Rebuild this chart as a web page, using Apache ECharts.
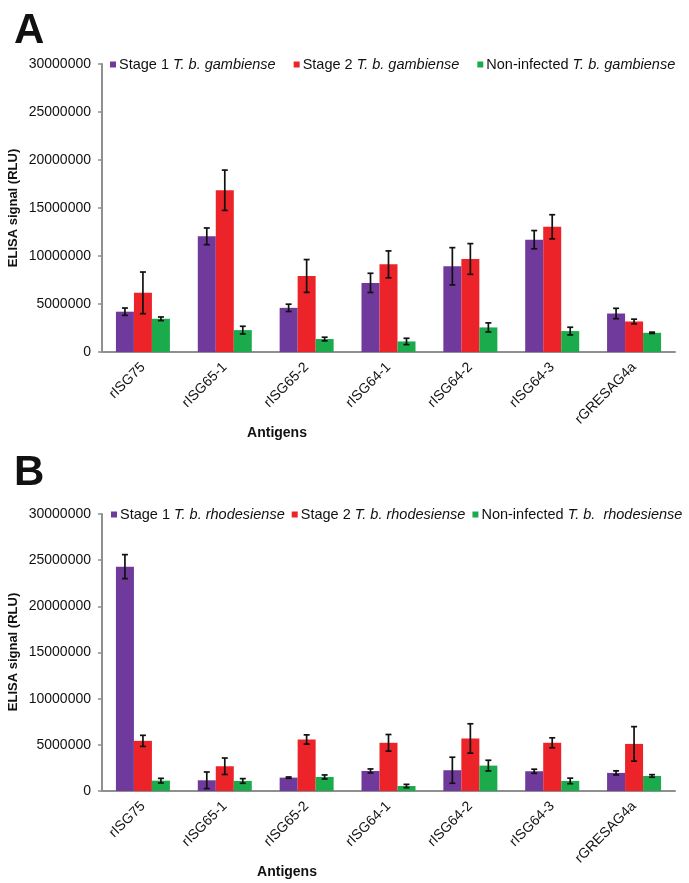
<!DOCTYPE html>
<html>
<head>
<meta charset="utf-8">
<script src="https://cdn.jsdelivr.net/npm/echarts@6/dist/echarts.min.js"></script>
<style>
html,body{margin:0;padding:0;background:#fff;}
#chart{width:689px;height:883px;}
</style>
</head>
<body>
<div id="chart"></div>
<script>
// ---- data ----
var categories = ['rISG75', 'rISG65-1', 'rISG65-2', 'rISG64-1', 'rISG64-2', 'rISG64-3', 'rGRESAG4a'];
var yTicks = [0, 5000000, 10000000, 15000000, 20000000, 25000000, 30000000];

var stagePrefixesA = ['Stage 1 ', 'Stage 2 ', 'Non-infected '];
var speciesA = 'T. b. gambiense';
var stagePrefixesB = ['Stage 1 ', 'Stage 2 ', 'Non-infected '];
var speciesB = ['T. b. rhodesiense', 'T. b. rhodesiense', 'T. b.  rhodesiense'];

// Panel A (gambiense)
var aStage1 = [4200000, 12050000, 4600000, 7200000, 8930000, 11700000, 4010000];
var aStage1Err = [380000, 870000, 380000, 1000000, 1940000, 950000, 540000];
var aStage2 = [6160000, 16850000, 7920000, 9130000, 9690000, 13040000, 3180000];
var aStage2Err = [2170000, 2100000, 1710000, 1400000, 1600000, 1260000, 240000];
var aNon = [3460000, 2280000, 1350000, 1100000, 2560000, 2180000, 2000000];
var aNonErr = [190000, 400000, 190000, 330000, 470000, 400000, 70000];

// Panel B (rhodesiense)
var bStage1 = [24300000, 1160000, 1450000, 2170000, 2250000, 2140000, 1960000];
var bStage1Err = [1300000, 900000, 70000, 220000, 1410000, 220000, 220000];
var bStage2 = [5430000, 2680000, 5580000, 5220000, 5690000, 5220000, 5100000];
var bStage2Err = [600000, 890000, 500000, 900000, 1590000, 540000, 1870000];
var bNon = [1120000, 1090000, 1520000, 540000, 2750000, 1090000, 1630000];
var bNonErr = [250000, 250000, 220000, 180000, 580000, 300000, 140000];

var colors = ['#6f3a9c', '#ec2329', '#1bab4c'];

// ---- build ----
var namesA = stagePrefixesA.map(function (p) { return p + speciesA; });
var namesB = stagePrefixesB.map(function (p, i) { return p + speciesB[i]; });

var BAR_W = 18;
var txtFont = 'Liberation Sans, Arial, sans-serif';

function errSeries(vals, errs, idx, axisIdx) {
  var data = vals.map(function (v, i) { return [i, v, errs[i]]; });
  return {
    type: 'custom',
    xAxisIndex: axisIdx,
    yAxisIndex: axisIdx,
    silent: true,
    z: 10,
    encode: { x: 0, y: 1 },
    data: data,
    renderItem: function (params, api) {
      var c = api.value(0), v = api.value(1), e = api.value(2);
      var top = api.coord([c, v + e]);
      var bot = api.coord([c, v - e]);
      var x = top[0] + (idx - 1) * BAR_W;
      var cap = 3;
      var st = { stroke: '#111', lineWidth: 1.7 };
      return {
        type: 'group',
        children: [
          { type: 'line', shape: { x1: x, y1: top[1], x2: x, y2: bot[1] }, style: st },
          { type: 'line', shape: { x1: x - cap, y1: top[1], x2: x + cap, y2: top[1] }, style: st },
          { type: 'line', shape: { x1: x - cap, y1: bot[1], x2: x + cap, y2: bot[1] }, style: st }
        ]
      };
    }
  };
}

function barSeries(name, vals, idx, axisIdx) {
  return {
    name: name,
    type: 'bar',
    xAxisIndex: axisIdx,
    yAxisIndex: axisIdx,
    barWidth: BAR_W,
    barGap: '0%',
    itemStyle: { color: colors[idx] },
    data: vals
  };
}

function legendFor(names, prefixes, species, gridTop, gap, left) {
  return {
    data: names,
    left: left,
    top: gridTop - 7,
    itemWidth: 6,
    itemHeight: 6,
    itemGap: gap,
    icon: 'rect',
    padding: 0,
    textStyle: {
      fontFamily: txtFont,
      fontSize: 14.5,
      color: '#111',
      padding: [0, 0, 0, -2],
      rich: {
        n: { fontFamily: txtFont, fontSize: 14.5, color: '#111' },
        s: { fontFamily: txtFont, fontSize: 14.5, color: '#111', fontStyle: 'italic' }
      }
    },
    formatter: function (name) {
      var i = names.indexOf(name);
      var sp = Array.isArray(species) ? species[i] : species;
      return '{n|' + prefixes[i] + '}{s|' + sp + '}';
    }
  };
}

var axisColor = '#8f8f8f';
function xAx(gi) {
  return {
    type: 'category',
    gridIndex: gi,
    data: categories,
    axisLine: { lineStyle: { color: axisColor, width: 2 } },
    axisTick: { length: 5, lineStyle: { color: axisColor, width: 1.5 } },
    axisLabel: {
      rotate: 45,
      interval: 0,
      margin: 13,
      color: '#111',
      fontSize: 14,
      fontFamily: txtFont
    }
  };
}
function yAx(gi) {
  return {
    type: 'value',
    gridIndex: gi,
    min: yTicks[0],
    max: yTicks[yTicks.length - 1],
    interval: yTicks[1] - yTicks[0],
    splitLine: { show: false },
    axisLine: { show: true, lineStyle: { color: axisColor, width: 2 } },
    axisTick: { show: true, length: 4, lineStyle: { color: axisColor, width: 1.5 } },
    axisLabel: {
      margin: 11,
      color: '#111',
      fontSize: 14,
      fontFamily: txtFont,
      formatter: function (v) { return String(v); }
    }
  };
}

var option = {
  animation: false,
  grid: [
    { left: 102, right: 14, top: 64, height: 288 },
    { left: 102, right: 14, top: 514, height: 277 }
  ],
  legend: [
    legendFor(namesA, stagePrefixesA, speciesA, 64, 18, 110),
    legendFor(namesB, stagePrefixesB, speciesB, 514, 7, 111)
  ],
  xAxis: [xAx(0), xAx(1)],
  yAxis: [yAx(0), yAx(1)],
  graphic: [
    { type: 'text', left: 14, top: 10, style: { text: 'A', font: 'bold 42px ' + txtFont, fill: '#111' } },
    { type: 'text', left: 14, top: 452, style: { text: 'B', font: 'bold 42px ' + txtFont, fill: '#111' } },
    { type: 'text', x: 13, y: 208, rotation: Math.PI / 2, style: { text: 'ELISA signal (RLU)', font: 'bold 13px ' + txtFont, fill: '#111', textAlign: 'center', textVerticalAlign: 'middle' } },
    { type: 'text', x: 13, y: 652, rotation: Math.PI / 2, style: { text: 'ELISA signal (RLU)', font: 'bold 13px ' + txtFont, fill: '#111', textAlign: 'center', textVerticalAlign: 'middle' } },
    { type: 'text', x: 277, y: 433, style: { text: 'Antigens', font: 'bold 14px ' + txtFont, fill: '#111', textAlign: 'center', textVerticalAlign: 'middle' } },
    { type: 'text', x: 287, y: 872, style: { text: 'Antigens', font: 'bold 14px ' + txtFont, fill: '#111', textAlign: 'center', textVerticalAlign: 'middle' } }
  ],
  series: [
    barSeries(namesA[0], aStage1, 0, 0),
    barSeries(namesA[1], aStage2, 1, 0),
    barSeries(namesA[2], aNon, 2, 0),
    errSeries(aStage1, aStage1Err, 0, 0),
    errSeries(aStage2, aStage2Err, 1, 0),
    errSeries(aNon, aNonErr, 2, 0),
    barSeries(namesB[0], bStage1, 0, 1),
    barSeries(namesB[1], bStage2, 1, 1),
    barSeries(namesB[2], bNon, 2, 1),
    errSeries(bStage1, bStage1Err, 0, 1),
    errSeries(bStage2, bStage2Err, 1, 1),
    errSeries(bNon, bNonErr, 2, 1)
  ]
};

var chart = echarts.init(document.getElementById('chart'), null, { renderer: 'canvas' });
chart.setOption(option);
</script>
</body>
</html>
